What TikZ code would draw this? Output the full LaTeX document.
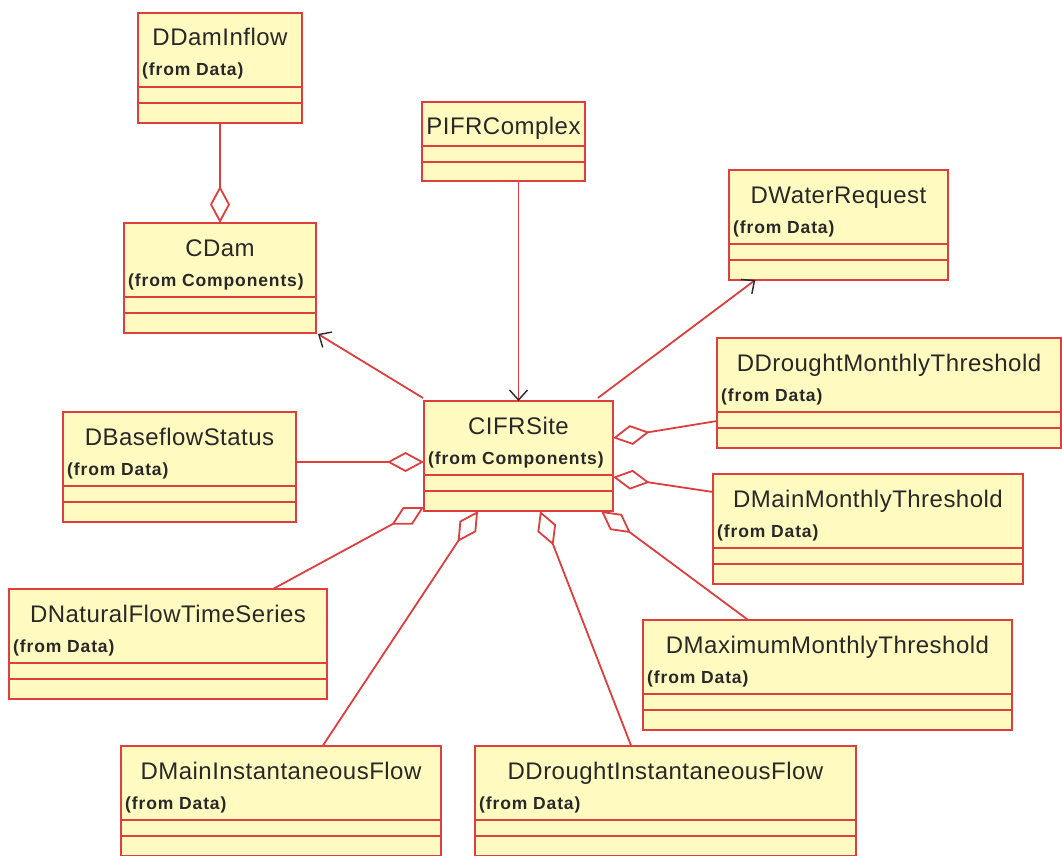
\documentclass[tikz,border=0pt]{standalone}
\usepackage{fontspec}
\setmainfont{Liberation Sans}
\newfontfamily\titlefont[LetterSpace=2]{Liberation Sans}
\newfontfamily\pkgfont[LetterSpace=5]{Liberation Sans}
\usetikzlibrary{arrows.meta,calc}

\definecolor{umlfill}{RGB}{255,251,192}
\definecolor{umlred}{RGB}{222,62,62}
\definecolor{umltext}{RGB}{40,40,40}

\tikzset{
  umlline/.style={draw=umlred, line width=1.8pt},
  umlbox/.style={draw=umlred, fill=umlfill, line width=1.8pt, inner sep=0pt,
    outer sep=0pt, anchor=north west},
  titletext/.style={inner sep=0pt, text=umltext,
    font=\titlefont\fontsize{24}{28}\selectfont},
  pkgtext/.style={inner sep=0pt, text=umltext,
    font=\pkgfont\bfseries\fontsize{17.5}{21}\selectfont},
  aggr/.style={umlline, -{Diamond[open, length=37pt, width=20pt]}},
  nav/.style={umlline,
    -{Straight Barb[color=umltext, length=10pt, width=18pt, line width=1.4pt]}},
}

% class box: name, left, top, width, class name, package
\newcommand\umlclass[6]{%
  \node[umlbox, minimum width=#4pt, minimum height=110pt] (#1) at (#2,#3) {};
  \draw[umlline] ($(#1.north west)+(0,74)$) -- ($(#1.north east)+(0,74)$);
  \draw[umlline] ($(#1.north west)+(0,90)$) -- ($(#1.north east)+(0,90)$);
  \node[titletext, anchor=base] (#1-name) at ($(#1.north)+(0,33)$) {#5};
  \node[pkgtext, anchor=base west] (#1-pkg) at ($(#1.north west)+(4,63)$) {(from #6)};
}

\begin{document}
\begin{tikzpicture}[x=1pt, y=-1pt]
  \fill[white] (0,0) rectangle (1062,856);
  \clip (0,0) rectangle (1062,856);

  % classes
  \umlclass{dinflow}{138}{13}{164}{DDamInflow}{Data}
  \umlclass{cdam}{124}{223}{192}{CDam}{Components}
  \umlclass{dwater}{729}{170}{219}{DWaterRequest}{Data}
  \umlclass{ddmt}{717}{338}{344}{DDroughtMonthlyThreshold}{Data}
  \umlclass{cifr}{424}{401}{189}{CIFRSite}{Components}
  \umlclass{dbase}{63}{412}{233}{DBaseflowStatus}{Data}
  \umlclass{dmmt}{713}{474}{310}{DMainMonthlyThreshold}{Data}
  \umlclass{dnat}{9}{589}{318}{DNaturalFlowTimeSeries}{Data}
  \umlclass{dmax}{643}{620}{369}{DMaximumMonthlyThreshold}{Data}
  \umlclass{dmif}{121}{746}{320}{DMainInstantaneousFlow}{Data}
  \umlclass{ddif}{475}{746}{381}{DDroughtInstantaneousFlow}{Data}

  % class without package line
  \node[umlbox, minimum width=163pt, minimum height=79pt] (pifr) at (422,102) {};
  \draw[umlline] ($(pifr.north west)+(0,44)$) -- ($(pifr.north east)+(0,44)$);
  \draw[umlline] ($(pifr.north west)+(0,60)$) -- ($(pifr.north east)+(0,60)$);
  \node[titletext, anchor=base] (pifr-name) at ($(pifr.north)+(0,33)$) {PIFRComplex};

  % associations
  \draw[aggr] (dinflow.south) -- (cdam.north);
  \draw[nav] (pifr.south -| cifr.north) -- (cifr.north);
  \draw[nav] ($(cifr.north west)+(-1,-3)$) -- ($(cdam.south east)+(2,1)$);
  \draw[nav] ($(cifr.north west)!0.92!(cifr.north east)+(0,-3)$)
    -- ($(dwater.south west)!0.12!(dwater.south east)$);
  \draw[aggr] ($(dbase.north east)+(0,50)$) coordinate (b1) -- (b1 -| cifr.west);
  \draw[aggr] ($(ddmt.north west)+(0,83)$) -- ($(cifr.north east)+(0,37)$);
  \draw[aggr] ($(dmmt.north west)+(0,18)$) -- ($(cifr.north east)+(0,76)$);
  \draw[aggr] ($(dnat.north west)!0.83!(dnat.north east)$) -- ($(cifr.south west)+(0,-4)$);
  \draw[aggr] ($(dmif.north west)!0.63!(dmif.north east)$)
    -- ($(cifr.south west)!0.286!(cifr.south east)$);
  \draw[aggr] ($(ddif.north west)!0.41!(ddif.north east)$)
    -- ($(cifr.south west)!0.614!(cifr.south east)$);
  \draw[aggr] ($(dmax.north west)!0.285!(dmax.north east)$)
    -- ($(cifr.south west)!0.937!(cifr.south east)$);
\end{tikzpicture}
\end{document}
